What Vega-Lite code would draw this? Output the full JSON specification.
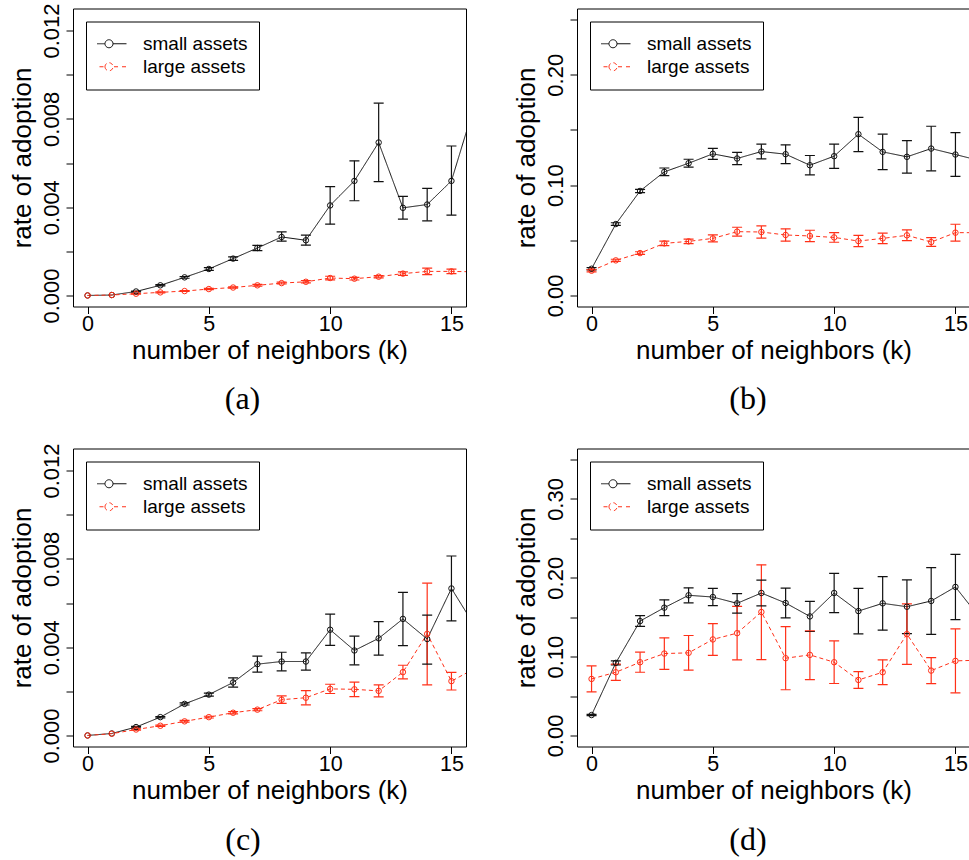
{
  "$schema": "https://vega.github.io/schema/vega-lite/v6.json",
  "background": "white",
  "padding": {"left": 8, "top": 2.5, "right": 0, "bottom": 0},
  "columns": 2,
  "spacing": {"row": 142, "column": 111},
  "bounds": "flush",
  "resolve": {"scale": {"color": "independent", "strokeDash": "independent"}, "legend": {"color": "independent"}},
  "data": {"values": [
    {"p":"a","s":"small assets","k":0,"r":0,"lo":0,"hi":0},
    {"p":"a","s":"small assets","k":1,"r":0.00002,"lo":0.00002,"hi":0.00002},
    {"p":"a","s":"small assets","k":2,"r":0.00018,"lo":0.00016,"hi":0.0002},
    {"p":"a","s":"small assets","k":3,"r":0.00046,"lo":0.00043,"hi":0.00049},
    {"p":"a","s":"small assets","k":4,"r":0.00082,"lo":0.00078,"hi":0.00086},
    {"p":"a","s":"small assets","k":5,"r":0.0012,"lo":0.00114,"hi":0.00126},
    {"p":"a","s":"small assets","k":6,"r":0.00167,"lo":0.00159,"hi":0.00175},
    {"p":"a","s":"small assets","k":7,"r":0.00215,"lo":0.00203,"hi":0.00227},
    {"p":"a","s":"small assets","k":8,"r":0.00265,"lo":0.00246,"hi":0.00288},
    {"p":"a","s":"small assets","k":9,"r":0.0025,"lo":0.00228,"hi":0.00273},
    {"p":"a","s":"small assets","k":10,"r":0.00408,"lo":0.00323,"hi":0.00493},
    {"p":"a","s":"small assets","k":11,"r":0.00519,"lo":0.00429,"hi":0.0061},
    {"p":"a","s":"small assets","k":12,"r":0.00693,"lo":0.00516,"hi":0.00871},
    {"p":"a","s":"small assets","k":13,"r":0.00397,"lo":0.00346,"hi":0.00449},
    {"p":"a","s":"small assets","k":14,"r":0.00412,"lo":0.00338,"hi":0.00485},
    {"p":"a","s":"small assets","k":15,"r":0.00519,"lo":0.00364,"hi":0.00677},
    {"p":"a","s":"small assets","k":16,"r":0.0088,"lo":0.0068,"hi":0.0108},
    {"p":"a","s":"large assets","k":0,"r":0,"lo":0,"hi":0},
    {"p":"a","s":"large assets","k":1,"r":0.00002,"lo":0.00002,"hi":0.00002},
    {"p":"a","s":"large assets","k":2,"r":0.00008,"lo":0.00006,"hi":0.0001},
    {"p":"a","s":"large assets","k":3,"r":0.00014,"lo":0.00012,"hi":0.00016},
    {"p":"a","s":"large assets","k":4,"r":0.0002,"lo":0.00018,"hi":0.00022},
    {"p":"a","s":"large assets","k":5,"r":0.00029,"lo":0.00026,"hi":0.00032},
    {"p":"a","s":"large assets","k":6,"r":0.00036,"lo":0.00033,"hi":0.00039},
    {"p":"a","s":"large assets","k":7,"r":0.00046,"lo":0.00042,"hi":0.0005},
    {"p":"a","s":"large assets","k":8,"r":0.00056,"lo":0.00052,"hi":0.0006},
    {"p":"a","s":"large assets","k":9,"r":0.00062,"lo":0.00057,"hi":0.00067},
    {"p":"a","s":"large assets","k":10,"r":0.00079,"lo":0.00071,"hi":0.00087},
    {"p":"a","s":"large assets","k":11,"r":0.00076,"lo":0.0007,"hi":0.00082},
    {"p":"a","s":"large assets","k":12,"r":0.00085,"lo":0.0008,"hi":0.0009},
    {"p":"a","s":"large assets","k":13,"r":0.00099,"lo":0.00091,"hi":0.00107},
    {"p":"a","s":"large assets","k":14,"r":0.00109,"lo":0.00094,"hi":0.00124},
    {"p":"a","s":"large assets","k":15,"r":0.00109,"lo":0.00099,"hi":0.00119},
    {"p":"a","s":"large assets","k":16,"r":0.00107,"lo":0.00095,"hi":0.00119},
    {"p":"b","s":"small assets","k":0,"r":0.0242,"lo":0.0232,"hi":0.0252},
    {"p":"b","s":"small assets","k":1,"r":0.0647,"lo":0.0635,"hi":0.0659},
    {"p":"b","s":"small assets","k":2,"r":0.0947,"lo":0.0932,"hi":0.0962},
    {"p":"b","s":"small assets","k":3,"r":0.112,"lo":0.1085,"hi":0.1155},
    {"p":"b","s":"small assets","k":4,"r":0.1198,"lo":0.1162,"hi":0.1234},
    {"p":"b","s":"small assets","k":5,"r":0.1283,"lo":0.1233,"hi":0.1333},
    {"p":"b","s":"small assets","k":6,"r":0.1241,"lo":0.1186,"hi":0.1296},
    {"p":"b","s":"small assets","k":7,"r":0.1304,"lo":0.1237,"hi":0.1371},
    {"p":"b","s":"small assets","k":8,"r":0.128,"lo":0.1195,"hi":0.1365},
    {"p":"b","s":"small assets","k":9,"r":0.118,"lo":0.1092,"hi":0.1268},
    {"p":"b","s":"small assets","k":10,"r":0.1262,"lo":0.1152,"hi":0.1372},
    {"p":"b","s":"small assets","k":11,"r":0.1461,"lo":0.1304,"hi":0.1613},
    {"p":"b","s":"small assets","k":12,"r":0.1301,"lo":0.1141,"hi":0.1461},
    {"p":"b","s":"small assets","k":13,"r":0.1256,"lo":0.1109,"hi":0.1403},
    {"p":"b","s":"small assets","k":14,"r":0.1331,"lo":0.1129,"hi":0.1533},
    {"p":"b","s":"small assets","k":15,"r":0.1277,"lo":0.1079,"hi":0.1475},
    {"p":"b","s":"small assets","k":16,"r":0.1222,"lo":0.1,"hi":0.144},
    {"p":"b","s":"large assets","k":0,"r":0.0224,"lo":0.0214,"hi":0.0234},
    {"p":"b","s":"large assets","k":1,"r":0.0318,"lo":0.0308,"hi":0.0328},
    {"p":"b","s":"large assets","k":2,"r":0.0384,"lo":0.0372,"hi":0.0396},
    {"p":"b","s":"large assets","k":3,"r":0.0472,"lo":0.0452,"hi":0.0492},
    {"p":"b","s":"large assets","k":4,"r":0.049,"lo":0.047,"hi":0.051},
    {"p":"b","s":"large assets","k":5,"r":0.0517,"lo":0.0485,"hi":0.0549},
    {"p":"b","s":"large assets","k":6,"r":0.0578,"lo":0.0538,"hi":0.0618},
    {"p":"b","s":"large assets","k":7,"r":0.0575,"lo":0.052,"hi":0.063},
    {"p":"b","s":"large assets","k":8,"r":0.0548,"lo":0.0492,"hi":0.0604},
    {"p":"b","s":"large assets","k":9,"r":0.0539,"lo":0.0487,"hi":0.0591},
    {"p":"b","s":"large assets","k":10,"r":0.0526,"lo":0.0482,"hi":0.057},
    {"p":"b","s":"large assets","k":11,"r":0.0493,"lo":0.0442,"hi":0.0544},
    {"p":"b","s":"large assets","k":12,"r":0.0517,"lo":0.047,"hi":0.0564},
    {"p":"b","s":"large assets","k":13,"r":0.0545,"lo":0.0496,"hi":0.0594},
    {"p":"b","s":"large assets","k":14,"r":0.0484,"lo":0.0444,"hi":0.0524},
    {"p":"b","s":"large assets","k":15,"r":0.0569,"lo":0.0493,"hi":0.0645},
    {"p":"b","s":"large assets","k":16,"r":0.0569,"lo":0.049,"hi":0.065},
    {"p":"c","s":"small assets","k":0,"r":0,"lo":0,"hi":0},
    {"p":"c","s":"small assets","k":1,"r":0.00009,"lo":0.00009,"hi":0.00009},
    {"p":"c","s":"small assets","k":2,"r":0.00038,"lo":0.00035,"hi":0.00041},
    {"p":"c","s":"small assets","k":3,"r":0.00083,"lo":0.0008,"hi":0.00086},
    {"p":"c","s":"small assets","k":4,"r":0.00143,"lo":0.00138,"hi":0.00148},
    {"p":"c","s":"small assets","k":5,"r":0.00185,"lo":0.00178,"hi":0.00192},
    {"p":"c","s":"small assets","k":6,"r":0.0024,"lo":0.00219,"hi":0.00261},
    {"p":"c","s":"small assets","k":7,"r":0.00323,"lo":0.00287,"hi":0.00359},
    {"p":"c","s":"small assets","k":8,"r":0.00335,"lo":0.00293,"hi":0.00377},
    {"p":"c","s":"small assets","k":9,"r":0.00335,"lo":0.00296,"hi":0.00374},
    {"p":"c","s":"small assets","k":10,"r":0.00479,"lo":0.00408,"hi":0.0055},
    {"p":"c","s":"small assets","k":11,"r":0.00385,"lo":0.0032,"hi":0.0045},
    {"p":"c","s":"small assets","k":12,"r":0.0044,"lo":0.00364,"hi":0.00516},
    {"p":"c","s":"small assets","k":13,"r":0.00528,"lo":0.00407,"hi":0.00648},
    {"p":"c","s":"small assets","k":14,"r":0.00437,"lo":0.00323,"hi":0.00545},
    {"p":"c","s":"small assets","k":15,"r":0.00666,"lo":0.00519,"hi":0.00813},
    {"p":"c","s":"small assets","k":16,"r":0.00489,"lo":0.0035,"hi":0.0063},
    {"p":"c","s":"large assets","k":0,"r":0,"lo":0,"hi":0},
    {"p":"c","s":"large assets","k":1,"r":0.00008,"lo":0.00008,"hi":0.00008},
    {"p":"c","s":"large assets","k":2,"r":0.00027,"lo":0.00024,"hi":0.0003},
    {"p":"c","s":"large assets","k":3,"r":0.00044,"lo":0.00041,"hi":0.00047},
    {"p":"c","s":"large assets","k":4,"r":0.00064,"lo":0.0006,"hi":0.00068},
    {"p":"c","s":"large assets","k":5,"r":0.00083,"lo":0.00079,"hi":0.00087},
    {"p":"c","s":"large assets","k":6,"r":0.00103,"lo":0.00098,"hi":0.00108},
    {"p":"c","s":"large assets","k":7,"r":0.00117,"lo":0.00112,"hi":0.00122},
    {"p":"c","s":"large assets","k":8,"r":0.00162,"lo":0.00145,"hi":0.00179},
    {"p":"c","s":"large assets","k":9,"r":0.00171,"lo":0.00139,"hi":0.00203},
    {"p":"c","s":"large assets","k":10,"r":0.00211,"lo":0.0019,"hi":0.00232},
    {"p":"c","s":"large assets","k":11,"r":0.00209,"lo":0.00176,"hi":0.00242},
    {"p":"c","s":"large assets","k":12,"r":0.00202,"lo":0.00175,"hi":0.00229},
    {"p":"c","s":"large assets","k":13,"r":0.00287,"lo":0.00256,"hi":0.00318},
    {"p":"c","s":"large assets","k":14,"r":0.0046,"lo":0.00229,"hi":0.0069},
    {"p":"c","s":"large assets","k":15,"r":0.00246,"lo":0.00206,"hi":0.00286},
    {"p":"c","s":"large assets","k":16,"r":0.00306,"lo":0.0026,"hi":0.0035},
    {"p":"d","s":"small assets","k":0,"r":0.0259,"lo":0.0251,"hi":0.0267},
    {"p":"d","s":"small assets","k":1,"r":0.0921,"lo":0.0895,"hi":0.0947},
    {"p":"d","s":"small assets","k":2,"r":0.1451,"lo":0.1383,"hi":0.1519},
    {"p":"d","s":"small assets","k":3,"r":0.1621,"lo":0.1521,"hi":0.1721},
    {"p":"d","s":"small assets","k":4,"r":0.1778,"lo":0.1683,"hi":0.1873},
    {"p":"d","s":"small assets","k":5,"r":0.1756,"lo":0.1646,"hi":0.1866},
    {"p":"d","s":"small assets","k":6,"r":0.1676,"lo":0.1553,"hi":0.1799},
    {"p":"d","s":"small assets","k":7,"r":0.1807,"lo":0.1644,"hi":0.197},
    {"p":"d","s":"small assets","k":8,"r":0.168,"lo":0.1491,"hi":0.1869},
    {"p":"d","s":"small assets","k":9,"r":0.151,"lo":0.1319,"hi":0.1701},
    {"p":"d","s":"small assets","k":10,"r":0.1807,"lo":0.1557,"hi":0.2057},
    {"p":"d","s":"small assets","k":11,"r":0.1578,"lo":0.1289,"hi":0.1867},
    {"p":"d","s":"small assets","k":12,"r":0.1676,"lo":0.1336,"hi":0.2016},
    {"p":"d","s":"small assets","k":13,"r":0.1633,"lo":0.1293,"hi":0.1973},
    {"p":"d","s":"small assets","k":14,"r":0.1706,"lo":0.1282,"hi":0.213},
    {"p":"d","s":"small assets","k":15,"r":0.1884,"lo":0.147,"hi":0.2298},
    {"p":"d","s":"small assets","k":16,"r":0.1494,"lo":0.11,"hi":0.19},
    {"p":"d","s":"large assets","k":0,"r":0.0717,"lo":0.0552,"hi":0.0882},
    {"p":"d","s":"large assets","k":1,"r":0.0802,"lo":0.0698,"hi":0.0906},
    {"p":"d","s":"large assets","k":2,"r":0.0929,"lo":0.0802,"hi":0.1056},
    {"p":"d","s":"large assets","k":3,"r":0.1039,"lo":0.0839,"hi":0.1239},
    {"p":"d","s":"large assets","k":4,"r":0.1048,"lo":0.0828,"hi":0.1268},
    {"p":"d","s":"large assets","k":5,"r":0.1218,"lo":0.1017,"hi":0.1419},
    {"p":"d","s":"large assets","k":6,"r":0.1298,"lo":0.0958,"hi":0.1638},
    {"p":"d","s":"large assets","k":7,"r":0.1566,"lo":0.0963,"hi":0.2164},
    {"p":"d","s":"large assets","k":8,"r":0.098,"lo":0.058,"hi":0.138},
    {"p":"d","s":"large assets","k":9,"r":0.1022,"lo":0.0709,"hi":0.1328},
    {"p":"d","s":"large assets","k":10,"r":0.0929,"lo":0.0659,"hi":0.1199},
    {"p":"d","s":"large assets","k":11,"r":0.0704,"lo":0.0598,"hi":0.081},
    {"p":"d","s":"large assets","k":12,"r":0.0802,"lo":0.0645,"hi":0.0959},
    {"p":"d","s":"large assets","k":13,"r":0.1286,"lo":0.0902,"hi":0.167},
    {"p":"d","s":"large assets","k":14,"r":0.0823,"lo":0.0658,"hi":0.0988},
    {"p":"d","s":"large assets","k":15,"r":0.0946,"lo":0.0541,"hi":0.1351},
    {"p":"d","s":"large assets","k":16,"r":0.0955,"lo":0.06,"hi":0.131}
  ]},
  "concat": [
    {
      "width": 393, "height": 298,
      "title": {"text": "(a)", "orient": "bottom", "frame": "group", "anchor": "middle", "offset": 45, "baseline": "alphabetic", "dx": -27, "font": "Liberation Serif", "fontSize": 32, "fontWeight": "normal", "color": "black"},
      "transform": [{"filter": "datum.p == 'a'"}],
      "encoding": {
        "x": {"field": "k", "type": "quantitative", "scale": {"domain": [-0.6, 15.6], "nice": false, "zero": false},
              "axis": {"values": [0, 5, 10, 15], "title": "number of neighbors (k)", "domain": false, "grid": false, "tickSize": 7, "tickColor": "black", "tickWidth": 1, "labelFont": "Liberation Sans", "labelFontSize": 21.5, "labelColor": "black", "labelPadding": 0, "labelFlush": false, "labelOverlap": false, "titleFont": "Liberation Sans", "titleFontSize": 26, "titleFontWeight": "normal", "titleColor": "black", "titleX": 196.5, "titleY": 52, "titleBaseline": "alphabetic", "titleAlign": "center"}},
        "color": {"field": "s", "type": "nominal", "scale": {"domain": ["small assets", "large assets"], "range": ["#111111", "#ff3018"]},
                  "legend": {"title": null, "orient": "top-left", "offset": 13, "strokeColor": "black", "fillColor": "white", "padding": 11, "symbolSize": 1225, "symbolStrokeWidth": 1, "symbolFillColor": "transparent", "symbolOffset": -6, "clipHeight": 22.5, "rowPadding": 0, "labelFont": "Liberation Sans", "labelFontSize": 19, "labelColor": "black", "labelOffset": 16, "labelLimit": 300,
                    "encode": {"symbols": {"update": {"shape": {"signal": "datum.value == 'large assets' ? 'M-1,0L-0.743,0M-0.543,0L-0.286,0M0.286,0L0.543,0M0.743,0L1,0M-0.229,0A0.229,0.229,0,1,0,0.229,0A0.229,0.229,0,1,0,-0.229,0' : 'M-1,0L-0.229,0M0.229,0L1,0M-0.229,0A0.229,0.229,0,1,0,0.229,0A0.229,0.229,0,1,0,-0.229,0'"}, "fill": {"value": "transparent"}, "fillOpacity": {"value": 0}, "strokeDash": {"value": [1, 0]}, "strokeWidth": {"value": 1}, "opacity": {"value": 1}}}}}}
      },
      "layer": [
        {"transform": [{"filter": "datum.hi > datum.lo"}], "mark": {"type": "rule", "clip": true, "strokeWidth": 1.2},
         "encoding": {"y": {"field": "lo", "type": "quantitative", "title": "rate of adoption", "scale": {"domain": [-0.0005, 0.013], "nice": false, "zero": false},
           "axis": {"values": [0, 0.002, 0.004, 0.006, 0.008, 0.01, 0.012], "labelExpr": "round(datum.value*1000) % 4 == 0 ? format(datum.value, '.3f') : ''", "domain": false, "grid": false, "tickSize": 7, "tickColor": "black", "tickWidth": 1, "labelFont": "Liberation Sans", "labelFontSize": 22, "labelColor": "black", "labelAngle": -90, "labelAlign": "center", "labelBaseline": "alphabetic", "labelPadding": 8, "labelFlush": false, "labelOverlap": false, "titleFont": "Liberation Sans", "titleFontSize": 26, "titleFontWeight": "normal", "titleColor": "black", "titleAngle": 270, "titleX": -43, "titleY": 149, "titleBaseline": "alphabetic", "titleAlign": "center"}},
           "y2": {"field": "hi"}}},
        {"transform": [{"filter": "datum.hi > datum.lo"}, {"fold": ["lo", "hi"], "as": ["end", "yv"]}], "mark": {"type": "tick", "orient": "horizontal", "size": 10, "thickness": 1.2, "clip": true, "opacity": 1},
         "encoding": {"y": {"field": "yv", "type": "quantitative", "title": "rate of adoption"}}},
        {"mark": {"type": "line", "clip": true, "strokeWidth": 1},
         "encoding": {"y": {"field": "r", "type": "quantitative", "title": "rate of adoption"},
           "strokeDash": {"field": "s", "type": "nominal", "scale": {"domain": ["small assets", "large assets"], "range": [[1, 0], [4, 3]]}, "legend": null}}},
        {"mark": {"type": "point", "shape": "circle", "filled": false, "size": 30, "strokeWidth": 1, "clip": true, "opacity": 1},
         "encoding": {"y": {"field": "r", "type": "quantitative", "title": "rate of adoption"}}}
      ]
    },
    {
      "width": 393, "height": 298,
      "title": {"text": "(b)", "orient": "bottom", "frame": "group", "anchor": "middle", "offset": 45, "baseline": "alphabetic", "dx": -25.5, "font": "Liberation Serif", "fontSize": 32, "fontWeight": "normal", "color": "black"},
      "transform": [{"filter": "datum.p == 'b'"}],
      "encoding": {
        "x": {"field": "k", "type": "quantitative", "scale": {"domain": [-0.6, 15.6], "nice": false, "zero": false},
              "axis": {"values": [0, 5, 10, 15], "title": "number of neighbors (k)", "domain": false, "grid": false, "tickSize": 7, "tickColor": "black", "tickWidth": 1, "labelFont": "Liberation Sans", "labelFontSize": 21.5, "labelColor": "black", "labelPadding": 0, "labelFlush": false, "labelOverlap": false, "titleFont": "Liberation Sans", "titleFontSize": 26, "titleFontWeight": "normal", "titleColor": "black", "titleX": 196.5, "titleY": 52, "titleBaseline": "alphabetic", "titleAlign": "center"}},
        "color": {"field": "s", "type": "nominal", "scale": {"domain": ["small assets", "large assets"], "range": ["#111111", "#ff3018"]},
                  "legend": {"title": null, "orient": "top-left", "offset": 13, "strokeColor": "black", "fillColor": "white", "padding": 11, "symbolSize": 1225, "symbolStrokeWidth": 1, "symbolFillColor": "transparent", "symbolOffset": -6, "clipHeight": 22.5, "rowPadding": 0, "labelFont": "Liberation Sans", "labelFontSize": 19, "labelColor": "black", "labelOffset": 16, "labelLimit": 300,
                    "encode": {"symbols": {"update": {"shape": {"signal": "datum.value == 'large assets' ? 'M-1,0L-0.743,0M-0.543,0L-0.286,0M0.286,0L0.543,0M0.743,0L1,0M-0.229,0A0.229,0.229,0,1,0,0.229,0A0.229,0.229,0,1,0,-0.229,0' : 'M-1,0L-0.229,0M0.229,0L1,0M-0.229,0A0.229,0.229,0,1,0,0.229,0A0.229,0.229,0,1,0,-0.229,0'"}, "fill": {"value": "transparent"}, "fillOpacity": {"value": 0}, "strokeDash": {"value": [1, 0]}, "strokeWidth": {"value": 1}, "opacity": {"value": 1}}}}}}
      },
      "layer": [
        {"transform": [{"filter": "datum.hi > datum.lo"}], "mark": {"type": "rule", "clip": true, "strokeWidth": 1.2},
         "encoding": {"y": {"field": "lo", "type": "quantitative", "title": "rate of adoption", "scale": {"domain": [-0.01, 0.26], "nice": false, "zero": false},
           "axis": {"values": [0, 0.05, 0.1, 0.15, 0.2, 0.25], "labelExpr": "round(datum.value*100) % 10 == 0 ? format(datum.value, '.2f') : ''", "domain": false, "grid": false, "tickSize": 7, "tickColor": "black", "tickWidth": 1, "labelFont": "Liberation Sans", "labelFontSize": 22, "labelColor": "black", "labelAngle": -90, "labelAlign": "center", "labelBaseline": "alphabetic", "labelPadding": 8, "labelFlush": false, "labelOverlap": false, "titleFont": "Liberation Sans", "titleFontSize": 26, "titleFontWeight": "normal", "titleColor": "black", "titleAngle": 270, "titleX": -43, "titleY": 149, "titleBaseline": "alphabetic", "titleAlign": "center"}},
           "y2": {"field": "hi"}}},
        {"transform": [{"filter": "datum.hi > datum.lo"}, {"fold": ["lo", "hi"], "as": ["end", "yv"]}], "mark": {"type": "tick", "orient": "horizontal", "size": 10, "thickness": 1.2, "clip": true, "opacity": 1},
         "encoding": {"y": {"field": "yv", "type": "quantitative", "title": "rate of adoption"}}},
        {"mark": {"type": "line", "clip": true, "strokeWidth": 1},
         "encoding": {"y": {"field": "r", "type": "quantitative", "title": "rate of adoption"},
           "strokeDash": {"field": "s", "type": "nominal", "scale": {"domain": ["small assets", "large assets"], "range": [[1, 0], [4, 3]]}, "legend": null}}},
        {"mark": {"type": "point", "shape": "circle", "filled": false, "size": 30, "strokeWidth": 1, "clip": true, "opacity": 1},
         "encoding": {"y": {"field": "r", "type": "quantitative", "title": "rate of adoption"}}}
      ]
    },
    {
      "width": 393, "height": 298,
      "title": {"text": "(c)", "orient": "bottom", "frame": "group", "anchor": "middle", "offset": 46, "baseline": "alphabetic", "dx": -26.5, "font": "Liberation Serif", "fontSize": 32, "fontWeight": "normal", "color": "black"},
      "transform": [{"filter": "datum.p == 'c'"}],
      "encoding": {
        "x": {"field": "k", "type": "quantitative", "scale": {"domain": [-0.6, 15.6], "nice": false, "zero": false},
              "axis": {"values": [0, 5, 10, 15], "title": "number of neighbors (k)", "domain": false, "grid": false, "tickSize": 7, "tickColor": "black", "tickWidth": 1, "labelFont": "Liberation Sans", "labelFontSize": 21.5, "labelColor": "black", "labelPadding": 0, "labelFlush": false, "labelOverlap": false, "titleFont": "Liberation Sans", "titleFontSize": 26, "titleFontWeight": "normal", "titleColor": "black", "titleX": 196.5, "titleY": 52, "titleBaseline": "alphabetic", "titleAlign": "center"}},
        "color": {"field": "s", "type": "nominal", "scale": {"domain": ["small assets", "large assets"], "range": ["#111111", "#ff3018"]},
                  "legend": {"title": null, "orient": "top-left", "offset": 13, "strokeColor": "black", "fillColor": "white", "padding": 11, "symbolSize": 1225, "symbolStrokeWidth": 1, "symbolFillColor": "transparent", "symbolOffset": -6, "clipHeight": 22.5, "rowPadding": 0, "labelFont": "Liberation Sans", "labelFontSize": 19, "labelColor": "black", "labelOffset": 16, "labelLimit": 300,
                    "encode": {"symbols": {"update": {"shape": {"signal": "datum.value == 'large assets' ? 'M-1,0L-0.743,0M-0.543,0L-0.286,0M0.286,0L0.543,0M0.743,0L1,0M-0.229,0A0.229,0.229,0,1,0,0.229,0A0.229,0.229,0,1,0,-0.229,0' : 'M-1,0L-0.229,0M0.229,0L1,0M-0.229,0A0.229,0.229,0,1,0,0.229,0A0.229,0.229,0,1,0,-0.229,0'"}, "fill": {"value": "transparent"}, "fillOpacity": {"value": 0}, "strokeDash": {"value": [1, 0]}, "strokeWidth": {"value": 1}, "opacity": {"value": 1}}}}}}
      },
      "layer": [
        {"transform": [{"filter": "datum.hi > datum.lo"}], "mark": {"type": "rule", "clip": true, "strokeWidth": 1.2},
         "encoding": {"y": {"field": "lo", "type": "quantitative", "title": "rate of adoption", "scale": {"domain": [-0.0005, 0.013], "nice": false, "zero": false},
           "axis": {"values": [0, 0.002, 0.004, 0.006, 0.008, 0.01, 0.012], "labelExpr": "round(datum.value*1000) % 4 == 0 ? format(datum.value, '.3f') : ''", "domain": false, "grid": false, "tickSize": 7, "tickColor": "black", "tickWidth": 1, "labelFont": "Liberation Sans", "labelFontSize": 22, "labelColor": "black", "labelAngle": -90, "labelAlign": "center", "labelBaseline": "alphabetic", "labelPadding": 8, "labelFlush": false, "labelOverlap": false, "titleFont": "Liberation Sans", "titleFontSize": 26, "titleFontWeight": "normal", "titleColor": "black", "titleAngle": 270, "titleX": -43, "titleY": 149, "titleBaseline": "alphabetic", "titleAlign": "center"}},
           "y2": {"field": "hi"}}},
        {"transform": [{"filter": "datum.hi > datum.lo"}, {"fold": ["lo", "hi"], "as": ["end", "yv"]}], "mark": {"type": "tick", "orient": "horizontal", "size": 10, "thickness": 1.2, "clip": true, "opacity": 1},
         "encoding": {"y": {"field": "yv", "type": "quantitative", "title": "rate of adoption"}}},
        {"mark": {"type": "line", "clip": true, "strokeWidth": 1},
         "encoding": {"y": {"field": "r", "type": "quantitative", "title": "rate of adoption"},
           "strokeDash": {"field": "s", "type": "nominal", "scale": {"domain": ["small assets", "large assets"], "range": [[1, 0], [4, 3]]}, "legend": null}}},
        {"mark": {"type": "point", "shape": "circle", "filled": false, "size": 30, "strokeWidth": 1, "clip": true, "opacity": 1},
         "encoding": {"y": {"field": "r", "type": "quantitative", "title": "rate of adoption"}}}
      ]
    },
    {
      "width": 393, "height": 298,
      "title": {"text": "(d)", "orient": "bottom", "frame": "group", "anchor": "middle", "offset": 46, "baseline": "alphabetic", "dx": -25.5, "font": "Liberation Serif", "fontSize": 32, "fontWeight": "normal", "color": "black"},
      "transform": [{"filter": "datum.p == 'd'"}],
      "encoding": {
        "x": {"field": "k", "type": "quantitative", "scale": {"domain": [-0.6, 15.6], "nice": false, "zero": false},
              "axis": {"values": [0, 5, 10, 15], "title": "number of neighbors (k)", "domain": false, "grid": false, "tickSize": 7, "tickColor": "black", "tickWidth": 1, "labelFont": "Liberation Sans", "labelFontSize": 21.5, "labelColor": "black", "labelPadding": 0, "labelFlush": false, "labelOverlap": false, "titleFont": "Liberation Sans", "titleFontSize": 26, "titleFontWeight": "normal", "titleColor": "black", "titleX": 196.5, "titleY": 52, "titleBaseline": "alphabetic", "titleAlign": "center"}},
        "color": {"field": "s", "type": "nominal", "scale": {"domain": ["small assets", "large assets"], "range": ["#111111", "#ff3018"]},
                  "legend": {"title": null, "orient": "top-left", "offset": 13, "strokeColor": "black", "fillColor": "white", "padding": 11, "symbolSize": 1225, "symbolStrokeWidth": 1, "symbolFillColor": "transparent", "symbolOffset": -6, "clipHeight": 22.5, "rowPadding": 0, "labelFont": "Liberation Sans", "labelFontSize": 19, "labelColor": "black", "labelOffset": 16, "labelLimit": 300,
                    "encode": {"symbols": {"update": {"shape": {"signal": "datum.value == 'large assets' ? 'M-1,0L-0.743,0M-0.543,0L-0.286,0M0.286,0L0.543,0M0.743,0L1,0M-0.229,0A0.229,0.229,0,1,0,0.229,0A0.229,0.229,0,1,0,-0.229,0' : 'M-1,0L-0.229,0M0.229,0L1,0M-0.229,0A0.229,0.229,0,1,0,0.229,0A0.229,0.229,0,1,0,-0.229,0'"}, "fill": {"value": "transparent"}, "fillOpacity": {"value": 0}, "strokeDash": {"value": [1, 0]}, "strokeWidth": {"value": 1}, "opacity": {"value": 1}}}}}}
      },
      "layer": [
        {"transform": [{"filter": "datum.hi > datum.lo"}], "mark": {"type": "rule", "clip": true, "strokeWidth": 1.2},
         "encoding": {"y": {"field": "lo", "type": "quantitative", "title": "rate of adoption", "scale": {"domain": [-0.014, 0.364], "nice": false, "zero": false},
           "axis": {"values": [0, 0.05, 0.1, 0.15, 0.2, 0.25, 0.3, 0.35], "labelExpr": "round(datum.value*100) % 10 == 0 ? format(datum.value, '.2f') : ''", "domain": false, "grid": false, "tickSize": 7, "tickColor": "black", "tickWidth": 1, "labelFont": "Liberation Sans", "labelFontSize": 22, "labelColor": "black", "labelAngle": -90, "labelAlign": "center", "labelBaseline": "alphabetic", "labelPadding": 8, "labelFlush": false, "labelOverlap": false, "titleFont": "Liberation Sans", "titleFontSize": 26, "titleFontWeight": "normal", "titleColor": "black", "titleAngle": 270, "titleX": -43, "titleY": 149, "titleBaseline": "alphabetic", "titleAlign": "center"}},
           "y2": {"field": "hi"}}},
        {"transform": [{"filter": "datum.hi > datum.lo"}, {"fold": ["lo", "hi"], "as": ["end", "yv"]}], "mark": {"type": "tick", "orient": "horizontal", "size": 10, "thickness": 1.2, "clip": true, "opacity": 1},
         "encoding": {"y": {"field": "yv", "type": "quantitative", "title": "rate of adoption"}}},
        {"mark": {"type": "line", "clip": true, "strokeWidth": 1},
         "encoding": {"y": {"field": "r", "type": "quantitative", "title": "rate of adoption"},
           "strokeDash": {"field": "s", "type": "nominal", "scale": {"domain": ["small assets", "large assets"], "range": [[1, 0], [4, 3]]}, "legend": null}}},
        {"mark": {"type": "point", "shape": "circle", "filled": false, "size": 30, "strokeWidth": 1, "clip": true, "opacity": 1},
         "encoding": {"y": {"field": "r", "type": "quantitative", "title": "rate of adoption"}}}
      ]
    }
  ],
  "config": {
    "view": {"stroke": "black", "strokeWidth": 1},
    "axis": {"grid": false},
    "font": "Liberation Sans"
  }
}
